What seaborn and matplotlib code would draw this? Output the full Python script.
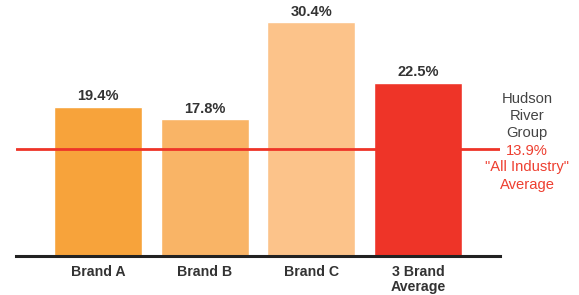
import matplotlib
matplotlib.use("Agg")
import matplotlib.pyplot as plt
import seaborn as sns
import pandas as pd

categories = ["Brand A", "Brand B", "Brand C", "3 Brand\nAverage"]
values = [19.4, 17.8, 30.4, 22.5]
value_labels = ["19.4%", "17.8%", "30.4%", "22.5%"]
bar_colors = ["#F7A33B", "#F9B466", "#FCC38A", "#EE3428"]
industry_avg = 13.9
industry_label_top = "Hudson\nRiver\nGroup"
industry_label_value = "13.9%"
industry_label_bottom = "\"All Industry\"\nAverage"

sns.set_theme(style="white")
plt.rcParams["font.family"] = ["Liberation Sans", "DejaVu Sans"]

df = pd.DataFrame({"cat": categories, "val": values})

W, H = 579, 295
fig = plt.figure(figsize=(W / 100, H / 100), dpi=100)
left_px, right_px, base_px = 16, 500, 256
ax = fig.add_axes([left_px / W, (H - base_px) / H, (right_px - left_px) / W, base_px / H])

sns.barplot(data=df, x="cat", y="val", hue="cat", palette=bar_colors,
            width=0.825, legend=False, ax=ax, saturation=1)

px_per_unit = (256 - 22) / 30.4
ax.set_ylim(0, base_px / px_per_unit)
spacing = 106.7
ax.set_xlim((left_px - 98) / spacing, (right_px - 98) / spacing)

for s in ["top", "right", "left"]:
    ax.spines[s].set_visible(False)
ax.spines["bottom"].set_color("#222222")
ax.spines["bottom"].set_linewidth(2.2)
ax.set_yticks([])
ax.set_xlabel("")
ax.set_ylabel("")
ax.tick_params(axis="x", length=0, pad=6.5)
ax.set_xticks(range(len(categories)))
ax.set_xticklabels(categories, fontsize=10.2, fontweight="bold", color="#333333",
                   linespacing=1.1)

for i, (v, lab) in enumerate(zip(values, value_labels)):
    ax.annotate(lab, (i, v), xytext=(0, 2.5), textcoords="offset points",
                ha="center", va="bottom", fontsize=10.5, fontweight="bold",
                color="#333333")

ax.axhline(industry_avg, color="#EE3428", linewidth=2, zorder=5)

# right side annotation (figure pixel coords)
def fy(py):
    return 1 - py / H

fig.text(527 / W, fy(116), industry_label_top, ha="center", va="center",
         fontsize=10.6, color="#444444", linespacing=1.3)
fig.text(527 / W, fy(151), industry_label_value, ha="center", va="center",
         fontsize=10.6, color="#EE3F30")
fig.text(527 / W, fy(176), industry_label_bottom, ha="center", va="center",
         fontsize=10.6, color="#EE3F30", linespacing=1.3)

fig.savefig("out.png", dpi=100)
